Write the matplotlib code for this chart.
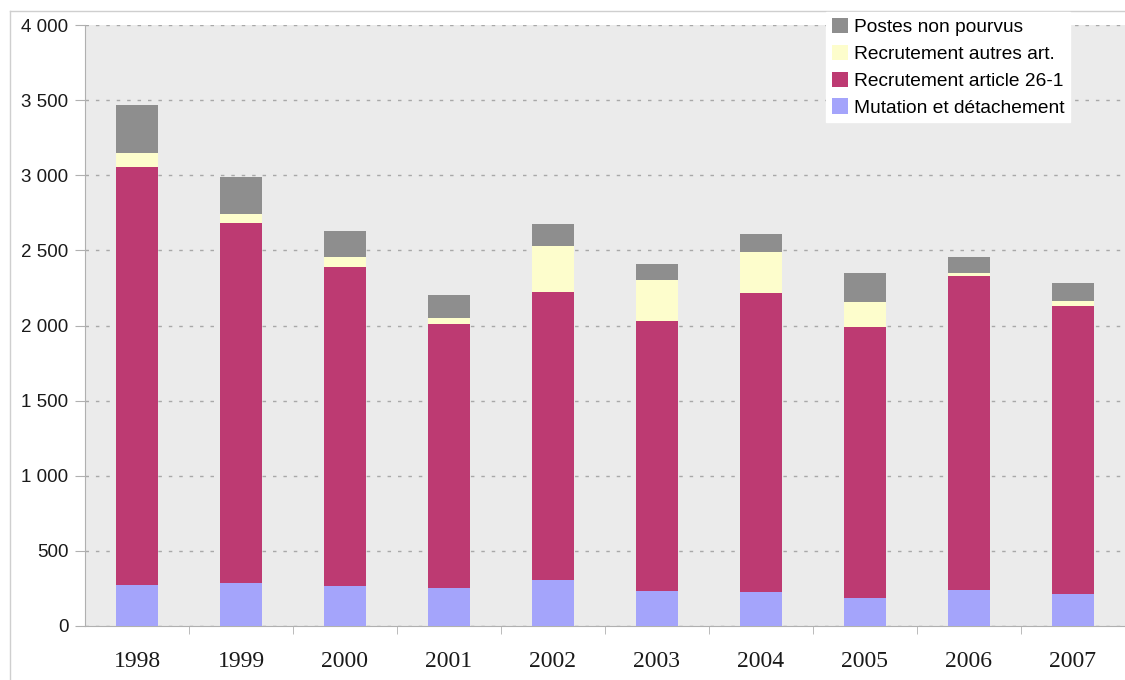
import matplotlib
matplotlib.use("Agg")
import matplotlib.pyplot as plt
from matplotlib.lines import Line2D
from matplotlib.ticker import FuncFormatter
import numpy as np

years = ["1998", "1999", "2000", "2001", "2002", "2003", "2004", "2005", "2006", "2007"]
mutation = [273, 284, 269, 255, 304, 231, 224, 189, 238, 215]
article_26_1 = [2784, 2398, 2120, 1756, 1916, 1798, 1992, 1798, 2089, 1916]
autres_art = [93, 62, 67, 40, 311, 275, 273, 169, 24, 31]
non_pourvus = [320, 242, 170, 154, 144, 105, 120, 195, 104, 122]

series_names = ["Mutation et détachement", "Recrutement article 26-1",
                "Recrutement autres art.", "Postes non pourvus"]
series_colors = ["#a4a4fb", "#bd3a72", "#fdfdcc", "#8e8e8e"]
y_ticks = [0, 500, 1000, 1500, 2000, 2500, 3000, 3500, 4000]

plt.rcParams['font.family'] = ['Liberation Sans', 'DejaVu Sans']

W, H = 1125, 680
fig = plt.figure(figsize=(W / 100, H / 100), dpi=100)
fig.patch.set_facecolor("white")

# frame lines of the figure
fig.add_artist(Line2D([10 / W, 10 / W], [0, 1 - 11 / H], transform=fig.transFigure,
                      color="#cfcfcf", lw=1))
fig.add_artist(Line2D([10 / W, 1], [1 - 11 / H, 1 - 11 / H], transform=fig.transFigure,
                      color="#cfcfcf", lw=1))

ax = fig.add_axes([85 / W, 1 - 626 / H, 1 - 85 / W, (626 - 25) / H])
ax.set_facecolor("#ebebeb")

x = np.arange(len(years))
data = [mutation, article_26_1, autres_art, non_pourvus]
bottom = np.zeros(len(years))
handles = []
for vals, name, col in zip(data, series_names, series_colors):
    b = ax.bar(x, vals, width=0.40, bottom=bottom, color=col, label=name,
               edgecolor="none", zorder=3)
    handles.append(b)
    bottom += np.array(vals)

ax.set_ylim(0, 4000)
ax.set_xlim(-0.5, (W - 137) / 105.44)
ax.set_yticks(y_ticks)
ax.yaxis.set_major_formatter(FuncFormatter(lambda v, p: f"{int(v):,}".replace(",", " ")))
ax.yaxis.grid(True, linestyle=(0, (2.5, 5)), color="#a8a8a8", lw=1, zorder=1)
ax.tick_params(axis="y", length=7, color="#b0b0b0", labelsize=13.5, pad=5,
               labelcolor="#1a1a1a")

ax.set_xticks(x)
ax.set_xticklabels(years, family=["Liberation Serif", "DejaVu Serif"], fontsize=17,
                   color="#1a1a1a")
ax.set_xticks(np.arange(len(years)) + 0.5, minor=True)
ax.tick_params(axis="x", which="major", length=0, pad=18)
ax.tick_params(axis="x", which="minor", length=6, color="#b0b0b0")

for s in ["top", "right"]:
    ax.spines[s].set_visible(False)
ax.spines["left"].set_color("#b0b0b0")
ax.spines["bottom"].set_color("#b0b0b0")

leg = fig.legend(handles[::-1], series_names[::-1], loc="upper left",
                 bbox_to_anchor=(826 / W, 1 - 12 / H), bbox_transform=fig.transFigure,
                 frameon=True, fancybox=False, edgecolor="white", facecolor="white",
                 framealpha=1, fontsize=13.8, handlelength=0.85, handleheight=0.85,
                 handletextpad=0.3, labelspacing=0.45, borderpad=0.3,
                 borderaxespad=0)

fig.savefig("out.png", dpi=100)
